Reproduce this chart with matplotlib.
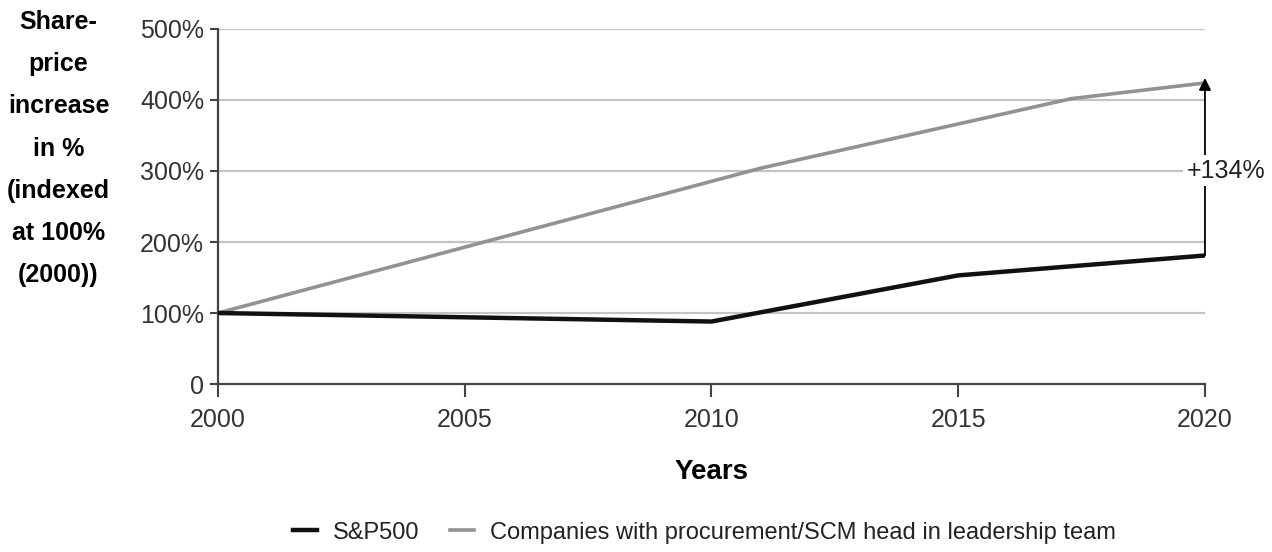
import matplotlib
matplotlib.use("Agg")
import matplotlib.pyplot as plt
from matplotlib.ticker import FixedLocator

# share-price development, indexed to 100% in 2000
years_sp = [2000, 2010, 2015, 2020]
sp500 = [100, 88, 153, 181]

years_scm = [2000, 2011, 2017.3, 2020]
scm_lead = [100, 304, 402, 424]

y_ticks = [0, 100, 200, 300, 400, 500]
y_tick_labels = ["0", "100%", "200%", "300%", "400%", "500%"]
x_ticks = [2000, 2005, 2010, 2015, 2020]

plt.rcParams["font.family"] = ["Liberation Sans", "DejaVu Sans"]

fig = plt.figure(figsize=(12.72, 5.52), dpi=100)
ax = fig.add_axes([0.1714, 0.3043, 0.7759, 0.6432])

ax.set_xlim(2000, 2020)
ax.set_ylim(0, 500)

for y in y_ticks[1:]:
    ax.axhline(y, color="#c4c4c4", lw=1.6, zorder=1)

ax.plot(years_scm, scm_lead, color="#929292", lw=2.6, zorder=3,
        label="Companies with procurement/SCM head in leadership team")
ax.plot(years_sp, sp500, color="#111111", lw=3.2, zorder=4, label="S&P500")

# gap between the two series in 2020
gain = round((scm_lead[-1] / sp500[-1] - 1) * 100)
ax.annotate("", xy=(2020, scm_lead[-1] + 7), xytext=(2020, sp500[-1]),
            xycoords="data", textcoords="data", annotation_clip=False,
            arrowprops=dict(arrowstyle="-|>", color="black", lw=1.3,
                            mutation_scale=18, shrinkA=0, shrinkB=0),
            zorder=5)
ax.annotate(f"+{gain}%", xy=(2020, (scm_lead[-1] + sp500[-1]) / 2),
            xytext=(15, -1), textcoords="offset points", ha="center", va="center",
            fontsize=18, annotation_clip=False, zorder=6, color="#222222",
            bbox=dict(boxstyle="square,pad=0.15", fc="white", ec="none"))

for side in ["top", "right"]:
    ax.spines[side].set_visible(False)
for side in ["left", "bottom"]:
    ax.spines[side].set_color("#444444")
    ax.spines[side].set_linewidth(1.6)

ax.yaxis.set_major_locator(FixedLocator(y_ticks))
ax.set_yticklabels(y_tick_labels)
ax.xaxis.set_major_locator(FixedLocator(x_ticks))
ax.tick_params(axis="y", length=6, width=1.5, color="#444444", labelsize=18,
               labelcolor="#333333", pad=4)
ax.tick_params(axis="x", length=9, width=1.5, color="#444444", labelsize=18,
               labelcolor="#333333", pad=8)

ax.set_xlabel("Years", fontsize=20, fontweight="bold", labelpad=20)

fig.text(0.046, 0.982,
         "Share-\nprice\nincrease\nin %\n(indexed\nat 100%\n(2000))",
         ha="center", va="top", fontsize=18, fontweight="bold", linespacing=1.96)

handles, labels = ax.get_legend_handles_labels()
fig.legend(handles[::-1], labels[::-1], loc="center", bbox_to_anchor=(0.554, 0.035),
           ncol=2, frameon=False, fontsize=17, handlelength=1.0,
           handletextpad=0.7, columnspacing=1.3, labelcolor="#222222")

fig.savefig("out.png", dpi=100)
